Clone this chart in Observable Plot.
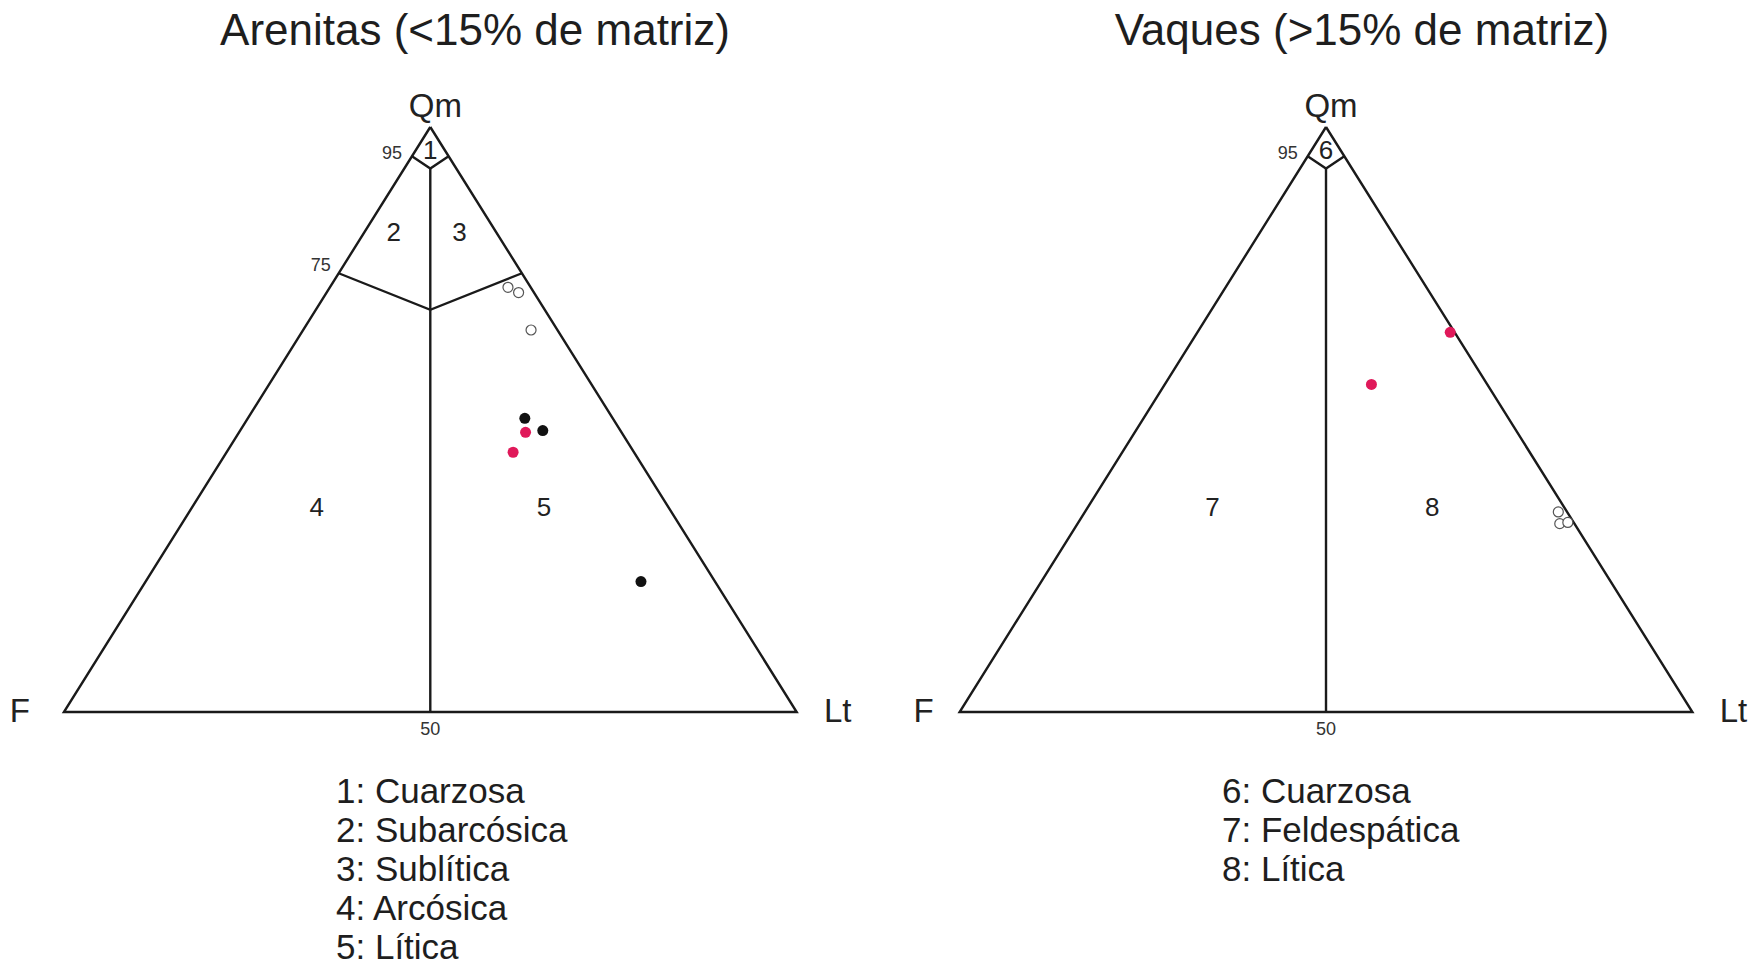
<!DOCTYPE html>
<html>
<head>
<meta charset="utf-8">
<script src="https://cdn.jsdelivr.net/npm/d3@7"></script>
<script src="https://cdn.jsdelivr.net/npm/@observablehq/plot@0.6"></script>
<style>
  body { margin: 0; background: #fff; font-family: "Liberation Sans", Arial, sans-serif; color: #1e1e1e; }
  #wrap { position: relative; width: 1758px; height: 967px; overflow: hidden; background: #fff; }
  .title { position: absolute; top: 5px; font-size: 44px; white-space: nowrap; transform: translateX(-50%); }
  .legend { position: absolute; top: 771px; font-size: 35px; line-height: 39px; white-space: nowrap; }
  #chart { position: absolute; top: 62px; left: 0; }
</style>
</head>
<body>
<div id="wrap">
  <div class="title" id="t0" style="left:475px"></div>
  <div class="title" id="t1" style="left:1362px"></div>
  <div id="chart"></div>
  <div class="legend" id="l0" style="left:336px"></div>
  <div class="legend" id="l1" style="left:1222px"></div>
</div>
<script>
// ---------- data ----------
const diagrams = ["Arenitas", "Vaques"];
const titles = ["Arenitas (<15% de matriz)", "Vaques (>15% de matriz)"];
const legendArenitas = ["1: Cuarzosa", "2: Subarcósica", "3: Sublítica", "4: Arcósica", "5: Lítica"];
const legendVaques = ["6: Cuarzosa", "7: Feldespática", "8: Lítica"];

// sample points (percent Qm, F, Lt)
const arenitasQm = [72.6, 71.7, 65.3, 50.2, 48.1, 22.3, 47.8, 44.4];
const arenitasF  = [ 3.1,  2.1,  3.6, 12.0, 10.6, 10.1, 13.1, 16.5];
const arenitasLt = [24.3, 26.2, 31.1, 37.8, 41.3, 67.6, 39.1, 39.1];
const arenitasGroup = ["abierto", "abierto", "abierto", "negro", "negro", "negro", "rojo", "rojo"];

const vaquesQm = [64.9, 56.0, 34.2, 32.2, 32.4];
const vaquesF  = [ 0.6, 15.8,  1.2,  2.0,  0.8];
const vaquesLt = [34.5, 28.2, 64.6, 65.8, 66.8];
const vaquesGroup = ["rojo", "rojo", "abierto", "abierto", "abierto"];

// field boundaries (ternary, percent)
const outlineQm = [100, 0, 0, 100];
const outlineF  = [0, 100, 0, 0];
const outlineLt = [0, 0, 100, 0];
const line95Qm = [95, 92.9, 95];
const line95F  = [5, 3.55, 0];
const line95Lt = [0, 3.55, 5];
const line75Qm = [75, 68.75, 75];
const line75F  = [25, 15.625, 0];
const line75Lt = [0, 15.625, 25];
const medianQm = [92.9, 0];
const medianF  = [3.55, 50];
const medianLt = [3.55, 50];

// field labels (ternary position of each number)
const fieldsArenitas = ["1", "2", "3", "4", "5"];
const fieldsArenitasQm = [96, 82, 82, 35, 35];
const fieldsArenitasF  = [2, 14, 5, 48, 17];
const fieldsArenitasLt = [2, 4, 13, 17, 48];
const fieldsVaques = ["6", "7", "8"];
const fieldsVaquesQm = [96, 35, 35];
const fieldsVaquesF  = [2, 48, 18];
const fieldsVaquesLt = [2, 17, 47];

const vertexNames = ["Qm", "F", "Lt"];
const tickLabels = ["95", "75", "50"];

// ---------- build rows ----------
function rows(diagram, qm, f, lt, extra = {}) {
  return qm.map((q, i) => {
    const r = {diagram, Qm: q, F: f[i], Lt: lt[i]};
    for (const k in extra) r[k] = extra[k][i];
    return r;
  });
}
const X = d => d.Lt / 100 + d.Qm / 200;
const Y = d => d.Qm / 100;

const points = [
  ...rows("Arenitas", arenitasQm, arenitasF, arenitasLt, {group: arenitasGroup}),
  ...rows("Vaques", vaquesQm, vaquesF, vaquesLt, {group: vaquesGroup})
];
const outline = diagrams.flatMap(d => rows(d, outlineQm, outlineF, outlineLt));
const l95 = diagrams.flatMap(d => rows(d, line95Qm, line95F, line95Lt));
const l75 = rows("Arenitas", line75Qm, line75F, line75Lt);
const median = diagrams.flatMap(d => rows(d, medianQm, medianF, medianLt));
const fields = [
  ...rows("Arenitas", fieldsArenitasQm, fieldsArenitasF, fieldsArenitasLt, {label: fieldsArenitas}),
  ...rows("Vaques", fieldsVaquesQm, fieldsVaquesF, fieldsVaquesLt, {label: fieldsVaques})
];
const vertexRow = (d, name) => ({diagram: d, label: name,
  Qm: name === "Qm" ? 100 : 0, F: name === "F" ? 100 : 0, Lt: name === "Lt" ? 100 : 0});
const qmLabels = diagrams.map(d => vertexRow(d, vertexNames[0]));
const fLeft = [vertexRow("Arenitas", vertexNames[1])];
const fRight = [vertexRow("Vaques", vertexNames[1])];
const ltLabels = diagrams.map(d => vertexRow(d, vertexNames[2]));
const t95 = diagrams.map(d => ({diagram: d, label: tickLabels[0], Qm: 95, F: 5, Lt: 0}));
const t75 = [{diagram: "Arenitas", label: tickLabels[1], Qm: 75, F: 25, Lt: 0}];
const t50 = diagrams.map(d => ({diagram: d, label: tickLabels[2], Qm: 0, F: 50, Lt: 50}));

const lineStyle = {x: X, y: Y, fx: "diagram", stroke: "#1a1a1a", strokeWidth: 2.4,
  strokeLinejoin: "miter", strokeLinecap: "butt", strokeMiterlimit: 10};
const ink = "#222";

const plot = Plot.plot({
  width: 1758,
  height: 700,
  marginLeft: 63.4,
  marginRight: 66.1,
  marginTop: 64.5,
  marginBottom: 50.5,
  style: {fontFamily: "'Liberation Sans', Arial, sans-serif", background: "white", color: ink},
  fx: {domain: diagrams, paddingInner: 0.1819, paddingOuter: 0, round: false, axis: null, label: null},
  x: {domain: [0, 1], axis: null},
  y: {domain: [0, 1], axis: null},
  marks: [
    Plot.line(outline, {...lineStyle, z: "diagram"}),
    Plot.line(l95, {...lineStyle, z: "diagram"}),
    Plot.line(l75, {...lineStyle, z: "diagram"}),
    Plot.line(median, {...lineStyle, z: "diagram"}),
    Plot.text(fields, {x: X, y: Y, fx: "diagram", text: "label", fontSize: 26, fill: ink}),
    Plot.text(qmLabels, {x: X, y: Y, fx: "diagram", text: "label", fontSize: 33, dx: 5, dy: -21, fill: ink}),
    Plot.text(fLeft, {x: X, y: Y, fx: "diagram", text: "label", fontSize: 33, dx: -44, dy: -1, fill: ink}),
    Plot.text(fRight, {x: X, y: Y, fx: "diagram", text: "label", fontSize: 33, dx: -36, dy: -1, fill: ink}),
    Plot.text(ltLabels, {x: X, y: Y, fx: "diagram", text: "label", fontSize: 33, dx: 41, dy: -1, fill: ink}),
    Plot.text(t95, {x: X, y: Y, fx: "diagram", text: "label", fontSize: 18, dx: -20, dy: -3, fill: "#333"}),
    Plot.text(t75, {x: X, y: Y, fx: "diagram", text: "label", fontSize: 18, dx: -18, dy: -8, fill: "#333"}),
    Plot.text(t50, {x: X, y: Y, fx: "diagram", text: "label", fontSize: 18, dy: 17, fill: "#333"}),
    Plot.dot(points.filter(d => d.group === "abierto"), {x: X, y: Y, fx: "diagram", r: 5, fill: "white", stroke: "#555", strokeWidth: 1.2}),
    Plot.dot(points.filter(d => d.group === "negro"), {x: X, y: Y, fx: "diagram", r: 5.5, fill: "#111", stroke: "none"}),
    Plot.dot(points.filter(d => d.group === "rojo"), {x: X, y: Y, fx: "diagram", r: 5.5, fill: "#e0195a", stroke: "none"})
  ]
});
document.getElementById("chart").appendChild(plot);
document.getElementById("t0").textContent = titles[0];
document.getElementById("t1").textContent = titles[1];
legendArenitas.forEach(s => { const d = document.createElement("div"); d.textContent = s; document.getElementById("l0").appendChild(d); });
legendVaques.forEach(s => { const d = document.createElement("div"); d.textContent = s; document.getElementById("l1").appendChild(d); });
</script>
</body>
</html>
